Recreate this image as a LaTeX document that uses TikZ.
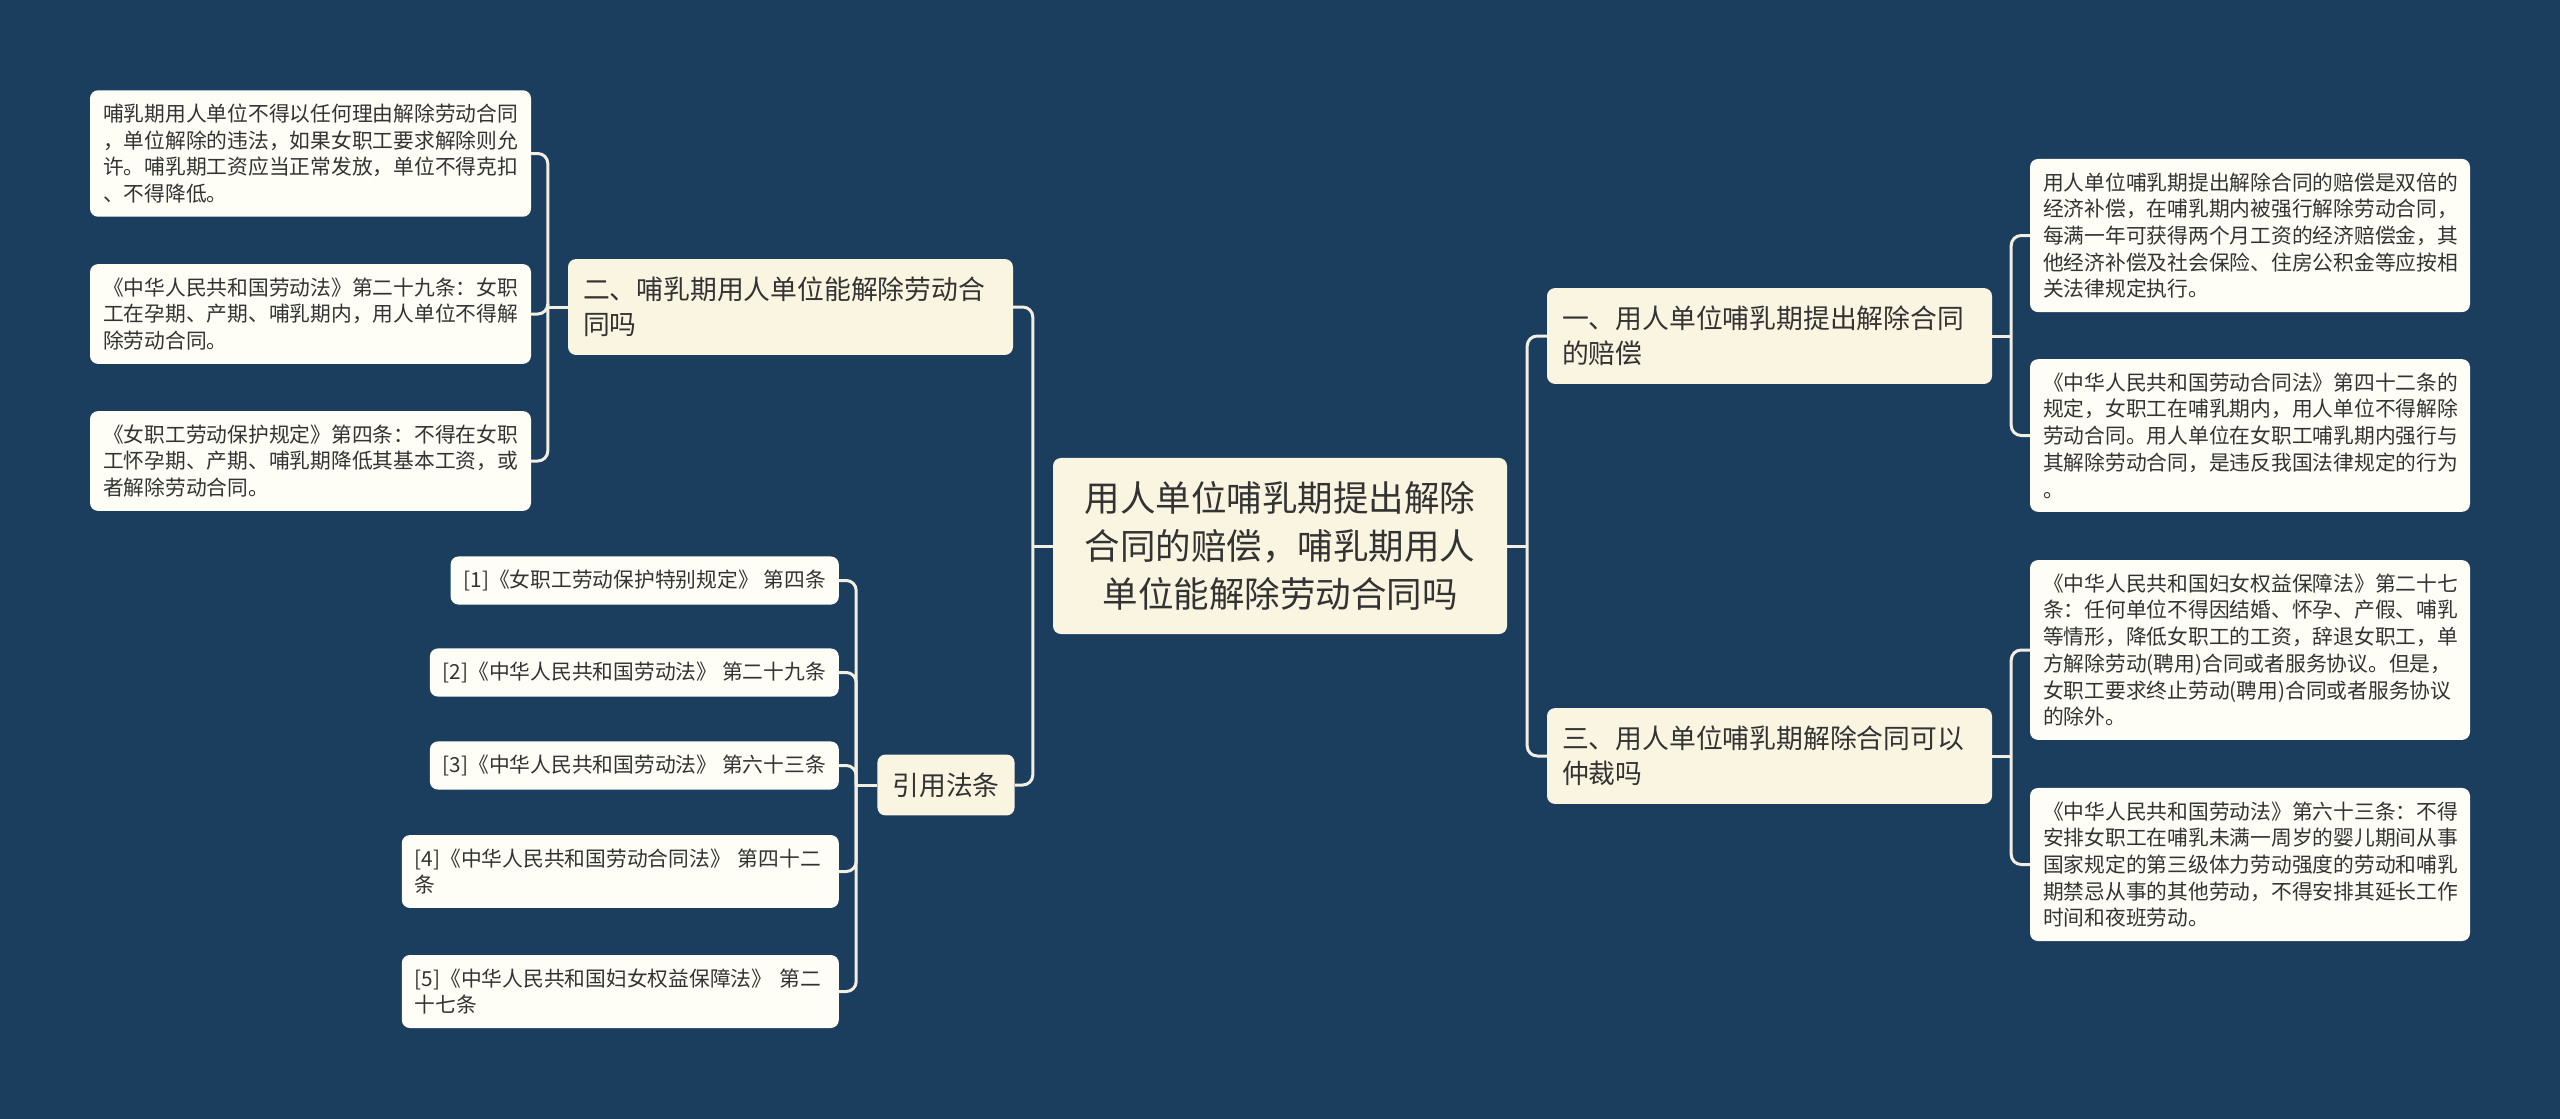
\documentclass[tikz,border=0pt]{standalone}
\usepackage{fontspec}
\setmainfont{Noto Sans CJK SC}

\definecolor{mapBg}{HTML}{1B3D5E}
\definecolor{mapTopic}{HTML}{FAF5E1}
\definecolor{mapLeaf}{HTML}{FEFEF7}
\definecolor{mapLine}{HTML}{F2EFE2}
\definecolor{mapText}{HTML}{333333}

\begin{document}
\begin{tikzpicture}[x=1pt, y=-1pt, text=mapText,
  box/.style={rounded corners=8pt, inner xsep=13pt, inner ysep=13.5pt, align=left},
  rootbox/.style={box, fill=mapTopic, font=\fontsize{35.5}{48}\selectfont,
    text width=394pt, align=center, inner xsep=30pt, inner ysep=23.5pt},
  topicbox/.style={box, fill=mapTopic, font=\fontsize{26.8}{35}\selectfont,
    inner xsep=15pt, inner ysep=18pt},
  leafbox/.style={box, fill=mapLeaf, font=\fontsize{20.75}{26.7}\selectfont},
  conn/.style={draw=mapLine, line width=3pt, rounded corners=10pt}]
% background
\fill[mapBg] (0,0) rectangle (2560,1119);
\useasboundingbox (0,0) rectangle (2560,1119);
% centre
\node[rootbox] (root) at (1280,546)
  {用人单位哺乳期提出解除\\合同的赔偿，哺乳期用人\\单位能解除劳动合同吗};
% topics
\node[topicbox, text width=415pt] (topicA) at (1769.5,336)
  {一、用人单位哺乳期提出解除合同\\的赔偿};
\node[topicbox, text width=415pt] (topicB) at (790.5,307)
  {二、哺乳期用人单位能解除劳动合\\同吗};
\node[topicbox, text width=415pt] (topicC) at (1769.5,756)
  {三、用人单位哺乳期解除合同可以\\仲裁吗};
\node[topicbox] (cite) at (946,785) {引用法条};
% leaves, left
\node[leafbox, text width=415pt] (leafB1) at (310.5,153.5)
  {哺乳期用人单位不得以任何理由解除劳动合同\\，单位解除的违法，如果女职工要求解除则允\\许。哺乳期工资应当正常发放，单位不得克扣\\、不得降低。};
\node[leafbox, text width=415pt] (leafB2) at (310.5,314)
  {《中华人民共和国劳动法》第二十九条：女职\\工在孕期、产期、哺乳期内，用人单位不得解\\除劳动合同。};
\node[leafbox, text width=415pt] (leafB3) at (310.5,461)
  {《女职工劳动保护规定》第四条：不得在女职\\工怀孕期、产期、哺乳期降低其基本工资，或\\者解除劳动合同。};
\node[leafbox, anchor=east] (ref1) at (839,580.5) {[1]《女职工劳动保护特别规定》 第四条};
\node[leafbox, anchor=east] (ref2) at (839,672.5) {[2]《中华人民共和国劳动法》 第二十九条};
\node[leafbox, anchor=east] (ref3) at (839,765.5) {[3]《中华人民共和国劳动法》 第六十三条};
\node[leafbox, anchor=east, text width=411pt] (ref4) at (839,871.5)
  {[4]《中华人民共和国劳动合同法》 第四十二\\条};
\node[leafbox, anchor=east, text width=411pt] (ref5) at (839,991.5)
  {[5]《中华人民共和国妇女权益保障法》 第二\\十七条};
% leaves, right
\node[leafbox, text width=414pt] (leafA1) at (2250,235.5)
  {用人单位哺乳期提出解除合同的赔偿是双倍的\\经济补偿，在哺乳期内被强行解除劳动合同，\\每满一年可获得两个月工资的经济赔偿金，其\\他经济补偿及社会保险、住房公积金等应按相\\关法律规定执行。};
\node[leafbox, text width=414pt] (leafA2) at (2250,435.5)
  {《中华人民共和国劳动合同法》第四十二条的\\规定，女职工在哺乳期内，用人单位不得解除\\劳动合同。用人单位在女职工哺乳期内强行与\\其解除劳动合同，是违反我国法律规定的行为\\。};
\node[leafbox, text width=414pt] (leafC1) at (2250,650)
  {《中华人民共和国妇女权益保障法》第二十七\\条：任何单位不得因结婚、怀孕、产假、哺乳\\等情形，降低女职工的工资，辞退女职工，单\\方解除劳动(聘用)合同或者服务协议。但是，\\女职工要求终止劳动(聘用)合同或者服务协议\\的除外。};
\node[leafbox, text width=414pt] (leafC2) at (2250,864.5)
  {《中华人民共和国劳动法》第六十三条：不得\\安排女职工在哺乳未满一周岁的婴儿期间从事\\国家规定的第三级体力劳动强度的劳动和哺乳\\期禁忌从事的其他劳动，不得安排其延长工作\\时间和夜班劳动。};
% links
\draw[conn] (root.west) -- ++(-20,0) coordinate (jRootL);
\draw[conn] (jRootL) |- (topicB.east);
\draw[conn] (jRootL) |- (cite.east);
\draw[conn] (root.east) -- ++(20,0) coordinate (jRootR);
\draw[conn] (jRootR) |- (topicA.west);
\draw[conn] (jRootR) |- (topicC.west);
\draw[conn] (topicB.west) -- ++(-20,0) coordinate (jB);
\foreach \n in {leafB1,leafB2,leafB3} \draw[conn] (jB) |- (\n.east);
\draw[conn] (cite.west) -- ++(-21,0) coordinate (jCite);
\foreach \n in {ref1,ref2,ref3,ref4,ref5} \draw[conn] (jCite) |- (\n.east);
\draw[conn] (topicA.east) -- ++(19,0) coordinate (jA);
\foreach \n in {leafA1,leafA2} \draw[conn] (jA) |- (\n.west);
\draw[conn] (topicC.east) -- ++(19,0) coordinate (jC);
\foreach \n in {leafC1,leafC2} \draw[conn] (jC) |- (\n.west);
\end{tikzpicture}
\end{document}
